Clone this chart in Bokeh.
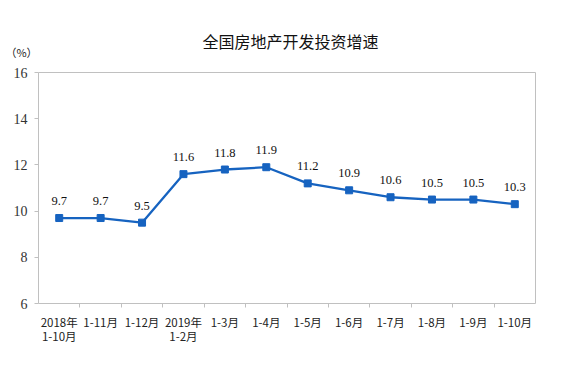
from bokeh.plotting import figure
from bokeh.models import ColumnDataSource, LabelSet, Label, FixedTicker, Range1d, LinearAxis
from bokeh.embed import file_html
from bokeh.resources import INLINE

categories = ["2018年\n1-10月", "1-11月", "1-12月", "2019年\n1-2月", "1-3月", "1-4月",
              "1-5月", "1-6月", "1-7月", "1-8月", "1-9月", "1-10月"]
values = [9.7, 9.7, 9.5, 11.6, 11.8, 11.9, 11.2, 10.9, 10.6, 10.5, 10.5, 10.3]
value_labels = ["9.7", "9.7", "9.5", "11.6", "11.8", "11.9", "11.2", "10.9", "10.6", "10.5", "10.5", "10.3"]
y_ticks = [6, 8, 10, 12, 14, 16]
title_text = "全国房地产开发投资增速"
unit_text = "（%）"

# ---- layout (pixels on the canvas) ----
W, H = 560, 375
PL, PR, PT, PB = 38, 535, 72, 303   # visible plot box
n = len(categories)
x_lo, x_hi = -0.5, n - 0.5
y_lo, y_hi = y_ticks[0], y_ticks[-1]
sx = (PR - PL) / (x_hi - x_lo)
sy = (PB - PT) / (y_hi - y_lo)
x_range = Range1d(x_lo - PL / sx, x_hi + (W - PR) / sx)
y_range = Range1d(y_lo - (H - PB) / sy, y_hi + PT / sy)

def px_to_x(px):
    return x_lo + (px - PL) / sx

def py_to_y(py):
    return y_hi + (PT - py) / sy

xs = list(range(n))
src = ColumnDataSource(dict(x=xs, y=values, lab=value_labels))

color = "#1663c0"
grey = "#c0c0c0"
p = figure(width=W, height=H, output_backend="svg", toolbar_location=None,
           x_range=x_range, y_range=y_range, x_axis_location=None, y_axis_location=None,
           min_border_left=0, min_border_right=0, min_border_top=0, min_border_bottom=0)
p.outline_line_color = None
p.background_fill_color = "white"
p.border_fill_color = "white"
for g in p.grid:
    g.visible = False

# bottom axis (categories)
xaxis = LinearAxis(fixed_location=y_lo, bounds=(x_lo, x_hi),
                   ticker=FixedTicker(ticks=xs, minor_ticks=[i + 0.5 for i in xs[:-1]]))
xaxis.major_label_overrides = {i: c for i, c in zip(xs, categories)}
xaxis.major_tick_out = 0
xaxis.major_tick_in = 0
xaxis.minor_tick_out = 4
xaxis.minor_tick_in = 0
xaxis.minor_tick_line_color = grey
xaxis.axis_line_color = grey
xaxis.major_label_standoff = 6
xaxis.major_label_text_font = "Noto Sans CJK SC"
xaxis.major_label_text_font_size = "11.5px"
xaxis.major_label_text_line_height = 0.9
xaxis.major_label_text_color = "#222222"
p.add_layout(xaxis, "below")

# left axis
yaxis = LinearAxis(fixed_location=x_lo, bounds=(y_lo, y_hi), ticker=FixedTicker(ticks=y_ticks))
yaxis.minor_tick_line_color = None
yaxis.major_tick_out = 4
yaxis.major_tick_in = 0
yaxis.major_tick_line_color = grey
yaxis.axis_line_color = grey
yaxis.major_label_standoff = 7
yaxis.major_label_text_font = "Liberation Serif"
yaxis.major_label_text_font_size = "14px"
yaxis.major_label_text_color = "#333333"
p.add_layout(yaxis, "left")

# box: top and right edges
top = LinearAxis(fixed_location=y_hi, bounds=(x_lo, x_hi), ticker=FixedTicker(ticks=[]),
                 axis_line_color=grey, major_tick_line_color=None, minor_tick_line_color=None,
                 major_label_text_font_size="0px")
p.add_layout(top, "above")
right = LinearAxis(fixed_location=x_hi, bounds=(y_lo, y_hi), ticker=FixedTicker(ticks=[]),
                   axis_line_color=grey, major_tick_line_color=None, minor_tick_line_color=None,
                   major_label_text_font_size="0px")
p.add_layout(right, "right")

p.line("x", "y", source=src, line_color=color, line_width=2.3)
p.scatter("x", "y", source=src, marker="square", size=7, fill_color=color, line_color=color)

labels = LabelSet(x="x", y="y", text="lab", source=src, text_align="center",
                  text_baseline="alphabetic", y_offset=13, text_font="Liberation Sans",
                  text_font_size="12.5px", text_color="#111111")
p.add_layout(labels)

p.add_layout(Label(x=px_to_x(21), y=py_to_y(51), text=unit_text,
                   text_align="center", text_baseline="middle",
                   text_font="Noto Sans CJK SC", text_font_size="11px", text_color="#222222"))
p.add_layout(Label(x=px_to_x(290), y=py_to_y(40), text=title_text,
                   text_align="center", text_baseline="middle",
                   text_font="Noto Sans CJK SC", text_font_size="16px", text_color="#111111"))

open("out.html", "w").write(file_html(p, INLINE))
